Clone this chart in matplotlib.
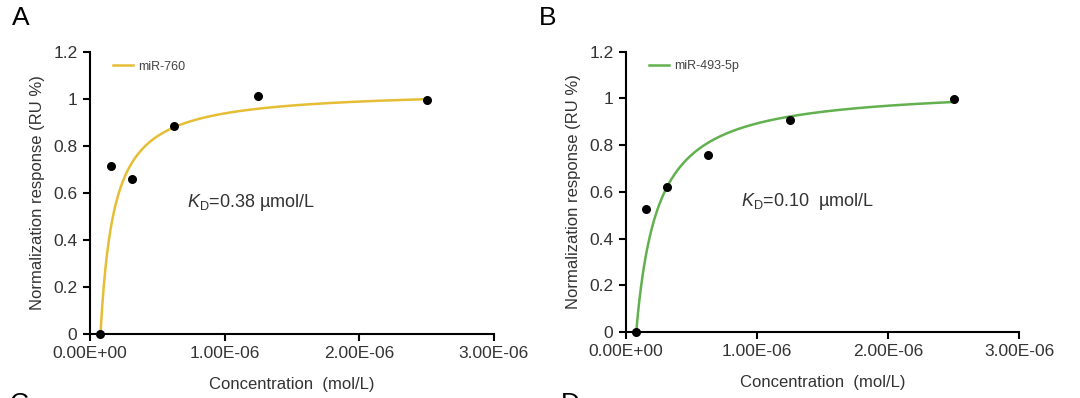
import numpy as np
import matplotlib
matplotlib.use("Agg")
import matplotlib.pyplot as plt

plt.rcParams['font.family'] = ['Liberation Sans', 'DejaVu Sans']
plt.rcParams['mathtext.fontset'] = 'custom'
plt.rcParams['mathtext.rm'] = 'Liberation Sans'
plt.rcParams['mathtext.it'] = 'Liberation Sans:italic'

# data (concentration in mol/L)
conc = [0.078125e-6, 0.15625e-6, 0.3125e-6, 0.625e-6, 1.25e-6, 2.5e-6]
resp_760 = [0.0, 0.716, 0.660, 0.884, 1.014, 0.996]
resp_493 = [0.0, 0.527, 0.619, 0.758, 0.908, 0.996]

# fitted curve parameters (hyperbola, offset at first concentration)
fit_760 = dict(bmax=1.041, k=0.10e-6)
fit_493 = dict(bmax=1.051, k=0.163e-6)

names = ["miR-760", "miR-493-5p"]
kd_labels = [r"$\mathit{K}_\mathrm{D}$=0.38 µmol/L", r"$\mathit{K}_\mathrm{D}$=0.10  µmol/L"]
colors = ["#E5BE35", "#62B04E"]

xticks = [0, 1e-6, 2e-6, 3e-6]
xticklabels = ["0.00E+00", "1.00E-06", "2.00E-06", "3.00E-06"]
yticks = [0, 0.2, 0.4, 0.6, 0.8, 1.0, 1.2]
yticklabels = ["0", "0.2", "0.4", "0.6", "0.8", "1", "1.2"]

txt = "#333333"

fig = plt.figure(figsize=(10.8, 3.98), dpi=100)
axA = fig.add_axes([0.0833, 0.161, 0.374, 0.708])
axB = fig.add_axes([0.5796, 0.166, 0.364, 0.704])

for ax, resp, fit, name, kd, col, kdpos in [
        (axA, resp_760, fit_760, names[0], kd_labels[0], colors[0], (0.72e-6, 0.56)),
        (axB, resp_493, fit_493, names[1], kd_labels[1], colors[1], (0.88e-6, 0.56))]:
    x0 = conc[0]
    xs = np.linspace(x0, conc[-1], 400)
    ys = fit['bmax'] * (xs - x0) / (fit['k'] + xs - x0)
    ax.plot(xs, ys, color=col, lw=1.8, label=name)
    ax.scatter(conc, resp, s=30, color="black", zorder=3, clip_on=False)
    ax.set_xlim(0, 3e-6)
    ax.set_ylim(0, 1.2)
    ax.set_xticks(xticks)
    ax.set_xticklabels(xticklabels)
    ax.set_yticks(yticks)
    ax.set_yticklabels(yticklabels)
    for s in ["top", "right"]:
        ax.spines[s].set_visible(False)
    for s in ["left", "bottom"]:
        ax.spines[s].set_linewidth(1.5)
    ax.tick_params(direction="out", length=5, width=1.5, labelsize=12.5,
                   labelcolor=txt, pad=4)
    ax.set_ylabel("Normalization response (RU %)", fontsize=12, color=txt, labelpad=6)
    ax.set_xlabel("Concentration  (mol/L)", fontsize=12, color=txt, labelpad=11)
    ax.text(kdpos[0], kdpos[1], kd, fontsize=13, color=txt, va="center")
    leg = ax.legend(loc="upper left", frameon=False, fontsize=9, handlelength=1.6,
                    handletextpad=0.4, bbox_to_anchor=(0.03, 1.01))
    for t in leg.get_texts():
        t.set_color("#444444")

fig.text(0.011, 0.955, "A", fontsize=19, color="black", va="center")
fig.text(0.499, 0.955, "B", fontsize=19, color="black", va="center")
fig.text(0.009, -0.015, "C", fontsize=19, color="black", va="center")
fig.text(0.519, -0.015, "D", fontsize=19, color="black", va="center")

fig.savefig("out.png", dpi=100)
